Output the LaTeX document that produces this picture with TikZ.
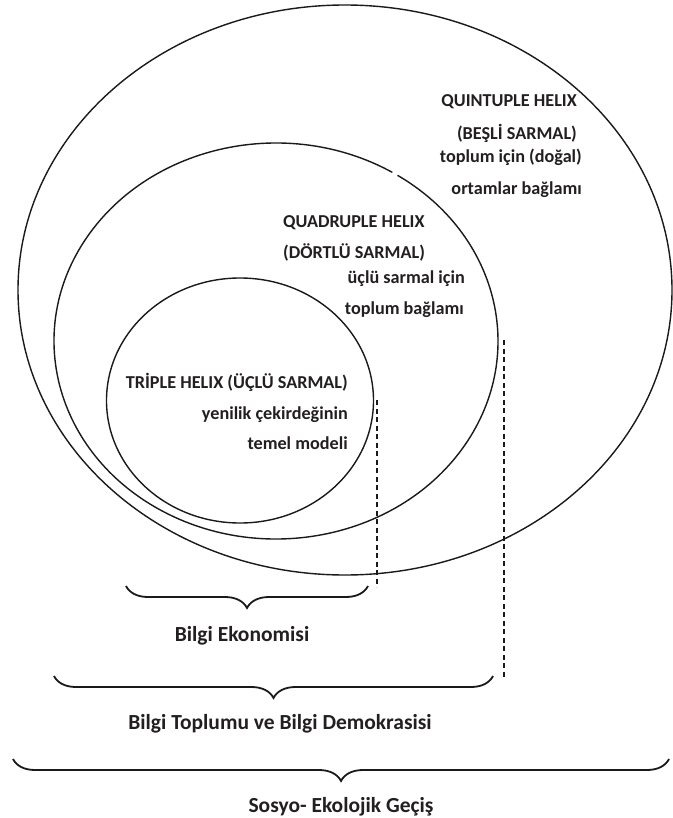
\documentclass[tikz,border=0pt]{standalone}
\usepackage{fontspec}
\setmainfont{Carlito}
\usetikzlibrary{decorations.pathreplacing}
\definecolor{txt}{HTML}{231F20}
\definecolor{ink}{HTML}{1A1A1A}
\begin{document}
\begin{tikzpicture}[x=1pt,y=-1pt,
  ring/.style={line width=1.4pt, draw=ink},
  guide/.style={line width=1.2pt, dash pattern=on 5pt off 3.5pt, draw=ink},
  bracebar/.style={line width=1.8pt, draw=ink, decorate, decoration={brace, mirror, amplitude=22pt}},
  lbl/.style={font=\bfseries\fontsize{18.2}{20}\selectfont, text=txt, inner sep=0pt},
  biglbl/.style={font=\bfseries\fontsize{21.5}{24}\selectfont, text=txt, inner sep=0pt}]
\useasboundingbox (0,0) rectangle (672,818);
\fill[white] (0,0) rectangle (672,818);
% rings
\coordinate (c5) at (345,290);
\coordinate (c4) at (276,341);
\coordinate (c3) at (240,400.5);
\draw[ring] (c5) ellipse [x radius=327pt, y radius=285pt];
\draw[ring] (c4) ++(58.4:222pt and 198pt) arc[start angle=58.4, end angle=416.8, x radius=222pt, y radius=198pt];
\draw[ring] (c3) ellipse [x radius=133.5pt, y radius=122.5pt];
% dashed guides
\coordinate (d1a) at (377,400);
\coordinate (d1b) at (377,587);
\coordinate (d2a) at (504,340);
\coordinate (d2b) at (504,678);
\draw[guide] (d1a) -- (d1b);
\draw[guide] (d2a) -- (d2b);
% braces
\coordinate (b1a) at (126,586);
\coordinate (b1b) at (368,586);
\coordinate (b2a) at (54,676);
\coordinate (b2b) at (493,676);
\coordinate (b3a) at (13,759);
\coordinate (b3b) at (669,759);
\draw[bracebar] (b1a) -- (b1b);
\draw[bracebar] (b2a) -- (b2b);
\draw[bracebar] (b3a) -- (b3b);
% quintuple texts
\node[lbl, anchor=base east] (q1) at (577,107) {QUINTUPLE HELIX};
\node[lbl, anchor=base east] (q2) at (577,140) {(BEŞLİ SARMAL)};
\node[lbl, anchor=base east] (q3) at (582,163) {toplum için (doğal)};
\node[lbl, anchor=base east] (q4) at (582,195) {ortamlar bağlamı};
% quadruple texts
\node[lbl, anchor=base west] (r1) at (283,228) {QUADRUPLE HELIX};
\node[lbl, anchor=base west] (r2) at (283,258) {(DÖRTLÜ SARMAL)};
\node[lbl, anchor=base east] (r3) at (465,283) {üçlü sarmal için};
\node[lbl, anchor=base east] (r4) at (464,314) {toplum bağlamı};
% triple texts
\node[lbl, anchor=base east] (t1) at (348,388) {TRİPLE HELIX (ÜÇLÜ SARMAL)};
\node[lbl, anchor=base east] (t2) at (348,419) {yenilik çekirdeğinin};
\node[lbl, anchor=base east] (t3) at (348,449) {temel modeli};
% bottom labels
\node[biglbl, anchor=base] (e1) at (242,641) {Bilgi Ekonomisi};
\node[biglbl, anchor=base] (e2) at (280,729) {Bilgi Toplumu ve Bilgi Demokrasisi};
\node[biglbl, anchor=base] (e3) at (341,812) {Sosyo- Ekolojik Geçiş};
\end{tikzpicture}
\end{document}
